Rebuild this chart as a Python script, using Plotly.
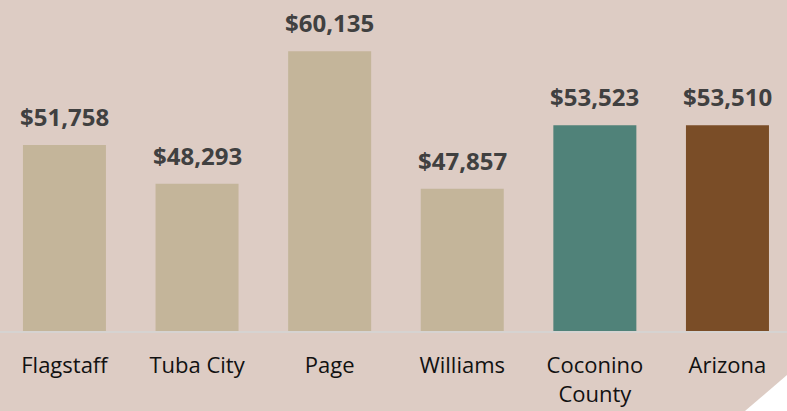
import plotly.graph_objects as go

categories = ["Flagstaff", "Tuba City", "Page", "Williams", "Coconino<br>County", "Arizona"]
incomes = [51758, 48293, 60135, 47857, 53523, 53510]
bar_colors = ["#C4B59A", "#C4B59A", "#C4B59A", "#C4B59A", "#508279", "#7A4D27"]
value_labels = ["$51,758", "$48,293", "$60,135", "$47,857", "$53,523", "$53,510"]

BG = "#DDCCC4"

fig = go.Figure()
fig.add_trace(go.Bar(
    x=categories, y=incomes,
    marker=dict(color=bar_colors, line=dict(width=0)),
    hoverinfo="skip",
))

for c, v, t in zip(categories, incomes, value_labels):
    fig.add_annotation(
        x=c, y=v, text=t, showarrow=False, yanchor="bottom", yshift=10,
        font=dict(family="Open Sans", size=24, color="#404040", weight="bold"),
    )

# folded page corner (decorative)
fig.add_shape(
    type="path", xref="paper", yref="paper",
    path="M 0.9466 -0.2417 L 1.0 -0.1329 L 1.0 -0.2417 Z",
    fillcolor="#FFFFFF", line=dict(width=0), layer="above",
)

fig.update_layout(
    width=787, height=411,
    margin=dict(l=0, r=0, t=0, b=80),
    paper_bgcolor=BG, plot_bgcolor=BG,
    bargap=0.374,
    showlegend=False,
    xaxis=dict(
        range=[-0.486, 5.449],
        showgrid=False, zeroline=False,
        showline=True, linecolor="#D6D3D1", linewidth=2,
        ticks="", ticklabelstandoff=14,
        tickfont=dict(family="Open Sans", size=22, color="#111111"),
    ),
    yaxis=dict(
        range=[35150, 64700], visible=False, showgrid=False, zeroline=False,
    ),
)

fig.write_html(
    "out.html",
    config={"displayModeBar": False},
    post_script="document.body.style.margin='0';document.body.style.overflow='hidden';",
)
